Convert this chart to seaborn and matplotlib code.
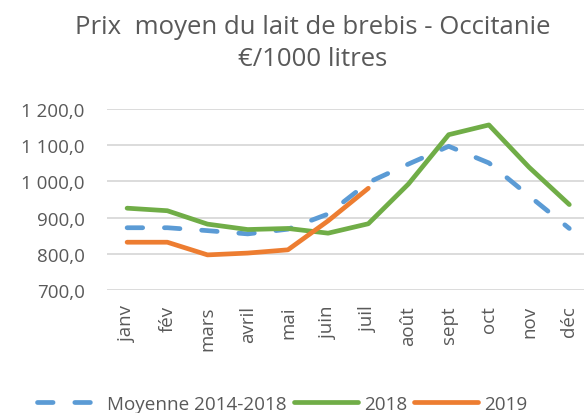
import matplotlib
matplotlib.use("Agg")
import matplotlib.pyplot as plt
import seaborn as sns
import pandas as pd
import numpy as np
from matplotlib.lines import Line2D

mois = ["janv", "fév", "mars", "avril", "mai", "juin", "juil", "août", "sept", "oct", "nov", "déc"]
moyenne = [872, 872, 864, 855, 868, 910, 997, 1048, 1097, 1051, 960, 870]
s2018 = [926, 919, 882, 867, 870, 857, 883, 993, 1129, 1156, 1039, 936]
s2019 = [832, 832, 797, 802, 811, 891, 981]
series_names = ["Moyenne 2014-2018", "2018", "2019"]
colors = {"Moyenne 2014-2018": "#5B9BD5", "2018": "#70AD47", "2019": "#ED7D31"}

rows = []
for name, vals in zip(series_names, [moyenne, s2018, s2019]):
    for m, v in zip(mois, vals):
        rows.append({"mois": m, "prix": v, "serie": name})
df = pd.DataFrame(rows)
df["mois"] = pd.Categorical(df["mois"], categories=mois, ordered=True)
df["x"] = df["mois"].cat.codes

sns.set_theme(style="white")
plt.rcParams["font.family"] = ["Open Sans", "DejaVu Sans"]

fig = plt.figure(figsize=(5.84, 4.14), dpi=100)
ax = fig.add_axes([107 / 584, 1 - 291 / 414, 482.4 / 584, 181 / 414])

lw = 3.4
for name in series_names:
    d = df[df["serie"] == name]
    sns.lineplot(data=d, x="x", y="prix", color=colors[name], lw=lw, ax=ax,
                 sort=False, legend=False, estimator=None)
    line = ax.lines[-1]
    line.set_solid_capstyle("round")
    line.set_solid_joinstyle("round")
    if name == "Moyenne 2014-2018":
        line.set_dashes([3.3, 4.6])
        line.set_dash_capstyle("round")

ax.set_xlim(-0.5, 11.5)
ax.set_ylim(700, 1200)
ax.set_yticks(np.arange(700, 1201, 100))
ax.set_yticklabels([f"{v:,.1f}".replace(",", " ").replace(".", ",") for v in np.arange(700, 1201, 100)])
ax.set_xticks(range(12))
ax.set_xticklabels(mois, rotation=90)
ax.tick_params(axis="both", length=0, labelsize=13.5, colors="#595959")
ax.tick_params(axis="x", pad=11)
ax.tick_params(axis="y", pad=16)
ax.grid(axis="y", color="#D9D9D9", lw=1.3)
ax.set_axisbelow(True)
for s in ax.spines.values():
    s.set_visible(False)
ax.set_xlabel("")
ax.set_ylabel("")

fig.text(313 / 584, 1 - 28 / 414, "Prix  moyen du lait de brebis - Occitanie", ha="center", va="center",
         fontsize=18.5, color="#595959")
fig.text(313 / 584, 1 - 60 / 414, "€/1000 litres", ha="center", va="center",
         fontsize=18.5, color="#595959")

handles = []
for name in series_names:
    h = Line2D([], [], color=colors[name], lw=lw, solid_capstyle="round", dash_capstyle="round")
    if name == "Moyenne 2014-2018":
        h.set_dashes([3.3, 4.6])
    handles.append(h)
fig.legend(handles, series_names, loc="center left", bbox_to_anchor=(37 / 584, 1 - 405 / 414),
           ncol=3, frameon=False, fontsize=13.6, labelcolor="#595959", handlelength=3.4,
           columnspacing=0.35, handletextpad=0.32, borderaxespad=0, borderpad=0)

fig.savefig("out.png", dpi=100)
